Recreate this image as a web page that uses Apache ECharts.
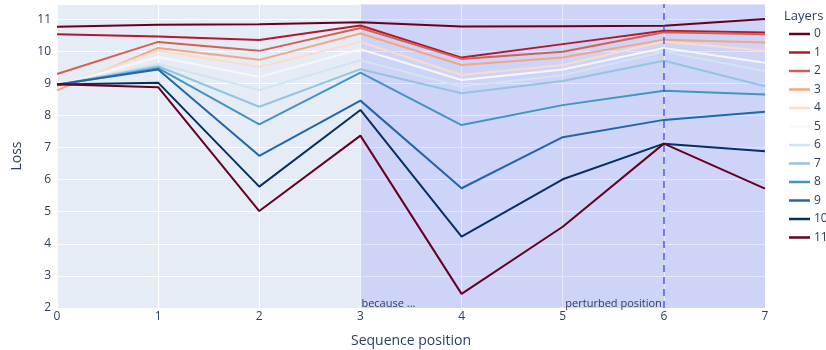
<!DOCTYPE html>
<html>
<head>
<meta charset="utf-8">
<script src="https://cdn.jsdelivr.net/npm/echarts@6/dist/echarts.min.js"></script>
<style>
  html, body { margin: 0; padding: 0; background: #fff; }
  #chart { width: 826px; height: 350px; }
</style>
</head>
<body>
<div id="chart"></div>
<script>
const positions = [0, 1, 2, 3, 4, 5, 6, 7]
const layerNames = ['0', '1', '2', '3', '4', '5', '6', '7', '8', '9', '10', '11']

// loss per layer, one array per layer
const layer0 = [10.76, 10.82, 10.84, 10.9, 10.77, 10.78, 10.79, 11.0]
const layer1 = [10.53, 10.46, 10.35, 10.8, 9.8, 10.22, 10.64, 10.58]
const layer2 = [9.29, 10.29, 10.01, 10.72, 9.76, 9.98, 10.59, 10.53]
const layer3 = [8.78, 10.1, 9.73, 10.55, 9.57, 9.8, 10.36, 10.27]
const layer4 = [8.86, 10.02, 9.51, 10.29, 9.26, 9.57, 10.3, 10.01]
const layer5 = [8.93, 9.82, 9.2, 10.06, 9.1, 9.43, 10.1, 9.64]
const layer6 = [8.95, 9.6, 8.79, 9.72, 8.9, 9.25, 9.98, 9.38]
const layer7 = [8.95, 9.53, 8.27, 9.44, 8.69, 9.07, 9.7, 8.91]
const layer8 = [8.95, 9.47, 7.72, 9.33, 7.7, 8.32, 8.77, 8.65]
const layer9 = [8.96, 9.43, 6.74, 8.46, 5.73, 7.32, 7.86, 8.11]
const layer10 = [8.96, 9.02, 5.78, 8.17, 4.22, 6.01, 7.12, 6.88]
const layer11 = [8.97, 8.88, 5.02, 7.37, 2.44, 4.53, 7.12, 5.72]
const layers = [layer0, layer1, layer2, layer3, layer4, layer5, layer6, layer7, layer8, layer9, layer10, layer11]

const shadeFrom = 3
const shadeTo = 7
const perturbedPos = 6

const colors = [
  'rgb(103,0,31)', 'rgb(178,24,43)', 'rgb(214,96,77)', 'rgb(244,165,130)',
  'rgb(253,219,199)', 'rgb(247,247,247)', 'rgb(209,229,240)', 'rgb(146,197,222)',
  'rgb(67,147,195)', 'rgb(33,102,172)', 'rgb(5,48,97)', 'rgb(103,0,31)'
]

const font = '"Open Sans", "Noto Sans", sans-serif'
const textColor = '#2a3f5f'

const chart = echarts.init(document.getElementById('chart'))

const series = layers.map((vals, i) => ({
  name: layerNames[i],
  type: 'line',
  data: vals.map((v, j) => [positions[j], v]),
  symbol: 'none',
  lineStyle: { width: 2, color: colors[i] },
  itemStyle: { color: colors[i] },
  emphasis: { disabled: true },
  z: 3
}))

// shaded region, marker line and the two notes hang on an empty helper series
series.push({
  name: '_marks',
  type: 'line',
  data: [],
  silent: true,
  markArea: {
    silent: true,
    data: [
      [{
        xAxis: shadeFrom,
        itemStyle: { color: 'rgba(0,0,255,0.1)' },
        label: {
          show: true, position: 'insideBottomLeft', formatter: 'because ...',
          color: textColor, fontFamily: font, fontSize: 11, offset: [-4, 6]
        }
      }, { xAxis: shadeTo }],
      [{
        xAxis: shadeFrom + 2,
        itemStyle: { color: 'rgba(0,0,0,0)' },
        label: {
          show: true, position: 'insideBottomRight', formatter: 'perturbed position',
          color: textColor, fontFamily: font, fontSize: 11, offset: [3, 6]
        }
      }, { xAxis: perturbedPos }]
    ]
  },
  markLine: {
    silent: true,
    symbol: 'none',
    label: { show: false },
    lineStyle: { color: 'rgba(60,60,255,0.85)', type: [7, 5], width: 1.5 },
    data: [{ xAxis: perturbedPos }]
  },
  z: 1
})

chart.setOption({
  animation: false,
  backgroundColor: '#fff',
  textStyle: { fontFamily: font },
  title: {
    text: 'Layers',
    left: 779,
    top: 5,
    textStyle: { fontSize: 13, fontWeight: 'normal', color: textColor, fontFamily: font }
  },
  legend: {
    orient: 'vertical',
    left: 784,
    top: 23,
    icon: 'rect',
    itemWidth: 21,
    itemHeight: 2.5,
    itemGap: 6.5,
    data: layerNames,
    textStyle: { fontSize: 12, lineHeight: 12, color: textColor, fontFamily: font, padding: [0, 0, 0, -1] }
  },
  grid: {
    left: 57, right: 61, top: 4, bottom: 42,
    outerBoundsMode: 'none', containLabel: false,
    backgroundColor: '#E5ECF6', show: true, borderWidth: 0
  },
  xAxis: {
    type: 'value',
    min: 0,
    max: 7,
    interval: 1,
    name: 'Sequence position',
    nameLocation: 'middle',
    nameGap: 26,
    nameTextStyle: { fontSize: 14, color: textColor, fontFamily: font },
    axisLine: { show: false },
    axisTick: { show: false },
    axisLabel: { color: textColor, fontSize: 12, margin: 3 },
    splitLine: { show: true, lineStyle: { color: '#fff', width: 1 } }
  },
  yAxis: {
    type: 'value',
    min: 2,
    max: 11.47,
    interval: 1,
    name: 'Loss',
    nameLocation: 'middle',
    nameGap: 33,
    nameTextStyle: { fontSize: 14, color: textColor, fontFamily: font },
    axisLine: { show: false },
    axisTick: { show: false },
    axisLabel: { color: textColor, fontSize: 12, margin: 6, showMaxLabel: false },
    splitLine: { show: true, lineStyle: { color: '#fff', width: 1 } }
  },
  series: series
})
</script>
</body>
</html>
